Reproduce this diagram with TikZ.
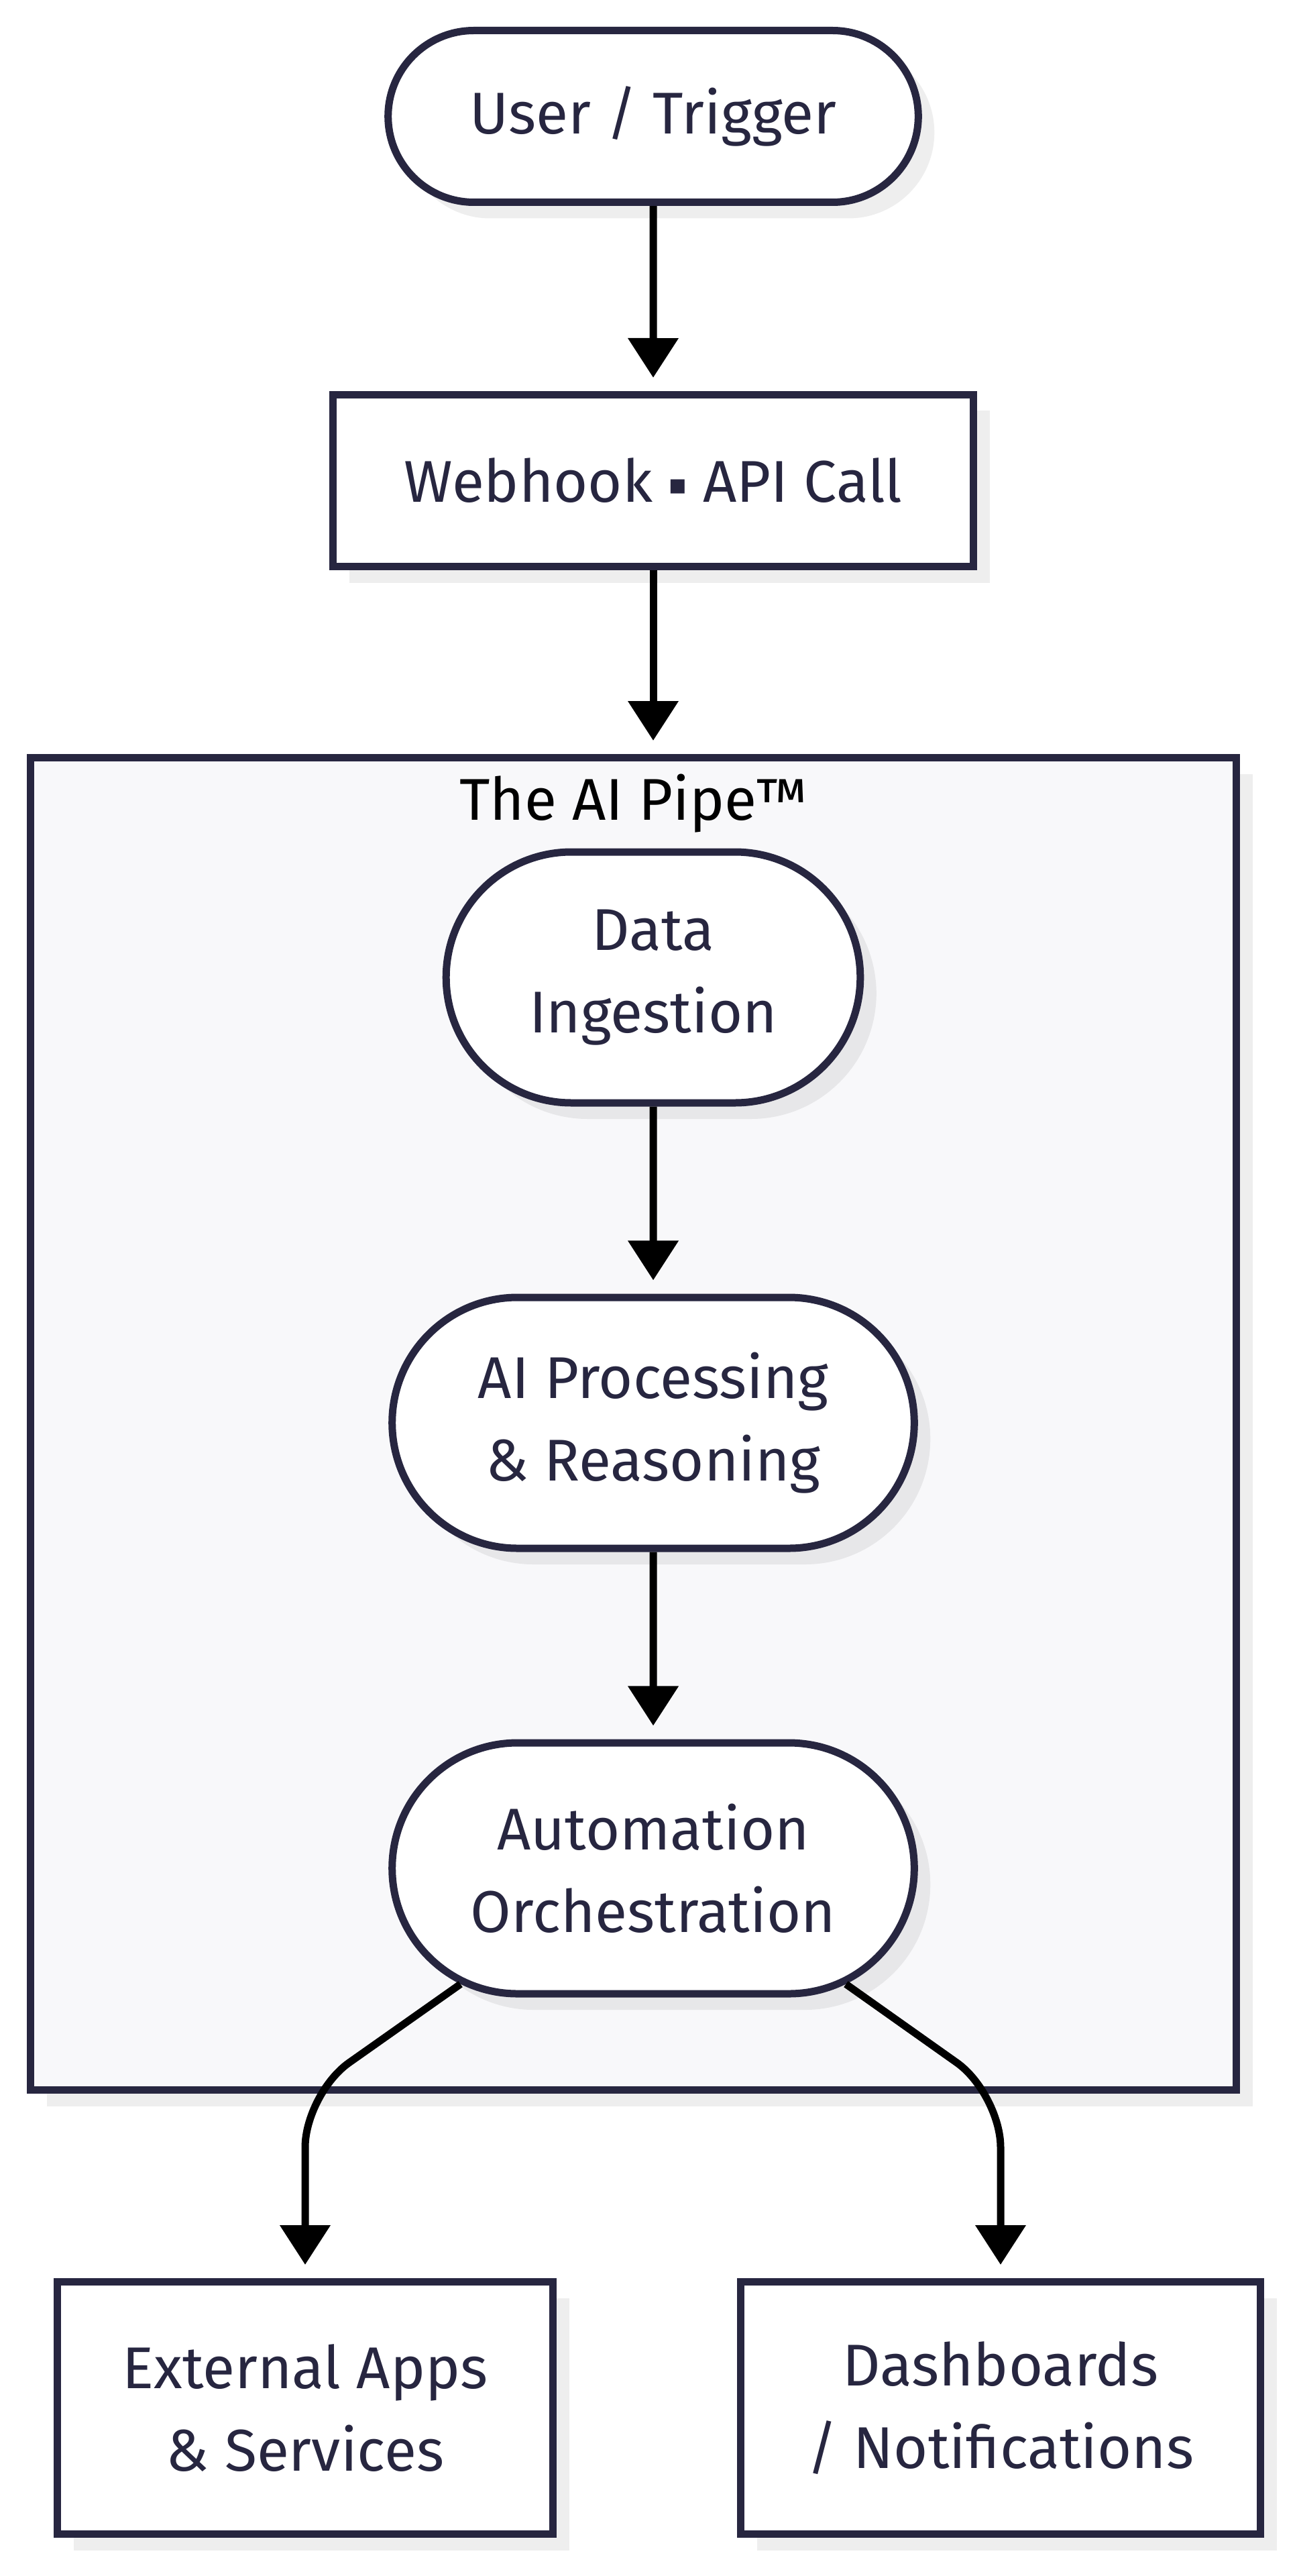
\documentclass[tikz,border=0pt]{standalone}
\usepackage{fontspec}
\setmainfont{Fira Sans}
\newfontfamily\symfont{DejaVu Sans}
\usetikzlibrary{positioning}
\usetikzlibrary{shapes.misc}
\usetikzlibrary{shadows}
\usetikzlibrary{arrows.meta}
\definecolor{inkblue}{HTML}{272640}
\definecolor{pipefill}{HTML}{F8F8FA}

\begin{document}
\begin{tikzpicture}[
		every node/.style = {font=\fontsize{25}{35}\selectfont, text=inkblue, align=center},
		boxshadow/.style = {drop shadow={shadow xshift=0.24cm, shadow yshift=-0.24cm, fill=black, opacity=0.065}},
		pill/.style = {draw=inkblue, line width=0.11cm, fill=white, rounded rectangle, boxshadow},
		block/.style = {draw=inkblue, line width=0.11cm, fill=white, rectangle, boxshadow},
		link/.style = {draw=black, line width=0.11cm, -{Triangle[length=0.59cm,width=0.73cm]}, shorten >=0.2cm}
	]
		\useasboundingbox (0,0) rectangle (19.33,-38.40);
		% the pipe container
		\node[draw=inkblue, line width=0.11cm, fill=pipefill, boxshadow, minimum width=17.98cm, minimum height=19.86cm] at (9.445,-21.225) (pipe) {};
		\node[text=black, yshift=-0.74cm] at (pipe.north) (title) {The AI Pipe™};
		% top of the chain
		\node[pill, minimum width=8.14cm, minimum height=2.56cm] at (9.74,-1.735) (user) {User / Trigger};
		\node[block, below = 2.76cm of user, minimum width=9.55cm, minimum height=2.56cm] (webhook) {Webhook \raisebox{0.12cm}{\symfont\fontsize{12}{12}\selectfont ▪} API Call};
		% inside the pipe
		\node[pill, minimum width=6.41cm, minimum height=3.74cm] at (9.74,-14.57) (data) {Data\\Ingestion};
		\node[pill, below = 2.79cm of data, minimum width=8.02cm, minimum height=3.74cm] (ai) {AI Processing\\\& Reasoning};
		\node[pill, below = 2.79cm of ai, minimum width=8.02cm, minimum height=3.74cm] (auto) {Automation\\Orchestration};
		% outputs
		\node[block, minimum width=7.39cm, minimum height=3.76cm] at (4.55,-35.895) (ext) {External Apps\\\& Services};
		\node[block, minimum width=7.75cm, minimum height=3.76cm] at (14.92,-35.895) (dash) {Dashboards\\/ Notifications};

		\draw[link] (user) -- (webhook);
		\draw[link] (webhook.south) -- (webhook.south |- pipe.north);
		\draw[link] (data) -- (ai);
		\draw[link] (ai) -- (auto);
		\draw[link, rounded corners=0.8cm] (auto.-149) -- (ext.north |- pipe.south) -- (ext.north);
		\draw[link, rounded corners=0.8cm] (auto.-31) -- (dash.north |- pipe.south) -- (dash.north);
	\end{tikzpicture}
\end{document}
